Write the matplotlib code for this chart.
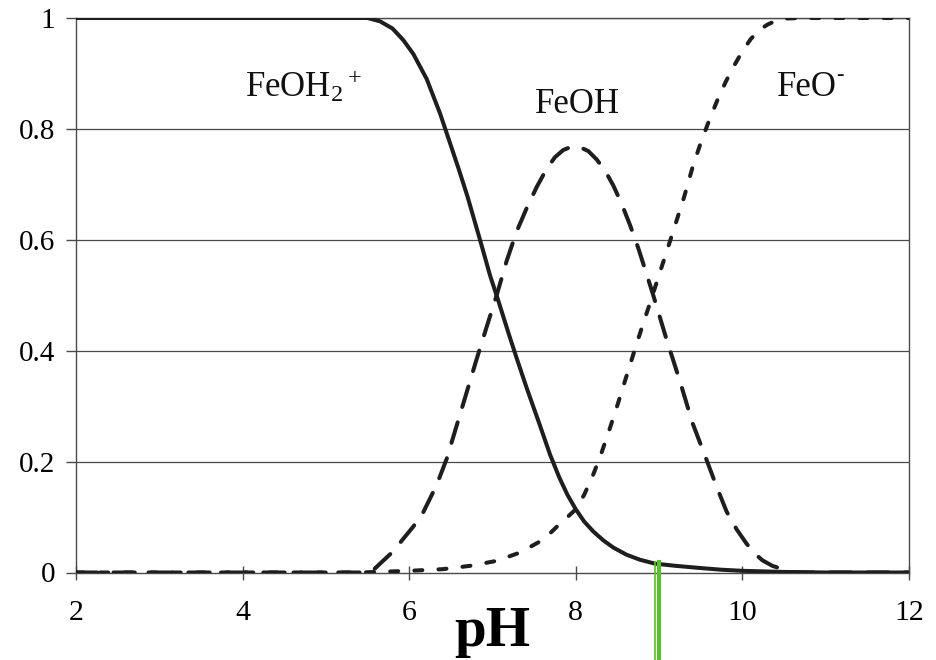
import matplotlib
matplotlib.use("Agg")
import matplotlib.pyplot as plt

# ---- data ----
ph_feoh2 = [2.0, 3.0, 4.0, 5.0, 5.5, 5.65, 5.8, 5.93, 6.05, 6.21, 6.37, 6.5, 6.6, 6.7,
            6.85, 6.97, 7.07, 7.2, 7.3, 7.41, 7.57, 7.69, 7.8, 7.9, 8.0, 8.1, 8.21,
            8.33, 8.45, 8.61, 8.77, 8.95, 9.2, 9.5, 9.75, 10.0, 10.5, 11.0, 12.0]
feoh2 = [1, 1, 1, 1, 1.0, 0.994, 0.981, 0.96, 0.935, 0.89, 0.828, 0.77, 0.725, 0.678,
         0.60, 0.536, 0.49, 0.428, 0.382, 0.333, 0.265, 0.213, 0.172, 0.14, 0.114,
         0.092, 0.074, 0.058, 0.045, 0.032, 0.023, 0.016, 0.012, 0.008, 0.005, 0.003,
         0.001, 0, 0]

ph_feoh = [2.0, 3.0, 4.0, 5.0, 5.5, 5.58, 5.65, 5.8, 5.93, 6.05, 6.17, 6.33, 6.45,
           6.57, 6.69, 6.81, 6.93, 7.05, 7.17, 7.29, 7.41, 7.53, 7.65, 7.75, 7.85,
           7.95, 8.05, 8.15, 8.25, 8.35, 8.45, 8.55, 8.65, 8.75, 8.85, 8.93, 9.09,
           9.25, 9.40, 9.57, 9.69, 9.81, 9.93, 10.05, 10.15, 10.24, 10.36, 10.48,
           10.6, 11.0, 12.0]
feoh = [0, 0, 0, 0, 0, 0.006, 0.016, 0.037, 0.061, 0.083, 0.109, 0.158, 0.205,
        0.265, 0.325, 0.385, 0.443, 0.50, 0.562, 0.615, 0.657, 0.695, 0.728, 0.749,
        0.762, 0.768, 0.767, 0.760, 0.745, 0.725, 0.698, 0.665, 0.627, 0.585, 0.538,
        0.50, 0.42, 0.345, 0.27, 0.203, 0.155, 0.11, 0.078, 0.052, 0.034, 0.022,
        0.012, 0.006, 0, 0, 0]

ph_feo = [2.0, 3.0, 4.0, 5.0, 5.4, 6.0, 6.4, 6.73, 7.05, 7.33, 7.57, 7.7, 7.81, 7.9,
          8.0, 8.1, 8.2, 8.3, 8.4, 8.5, 8.6, 8.7, 8.8, 8.9, 9.0, 9.1, 9.2, 9.3, 9.4,
          9.5, 9.6, 9.7, 9.8, 9.9, 10.0, 10.1, 10.2, 10.3, 10.4, 10.5, 10.7, 11.0, 12.0]
feo = [0, 0, 0, 0, 0, 0.003, 0.006, 0.012, 0.021, 0.036, 0.056, 0.072, 0.088, 0.1,
       0.114, 0.14, 0.173, 0.212, 0.256, 0.302, 0.35, 0.398, 0.445, 0.49, 0.537,
       0.583, 0.63, 0.677, 0.73, 0.775, 0.815, 0.852, 0.885, 0.914, 0.94, 0.962,
       0.978, 0.988, 0.995, 0.999, 1, 1, 1]

x_ticks = [2, 4, 6, 8, 10, 12]
y_ticks = [0, 0.2, 0.4, 0.6, 0.8, 1.0]
y_tick_labels = ["0", "0.2", "0.4", "0.6", "0.8", "1"]
species_labels = [r"FeOH$_2$$^+$", "FeOH", "FeO"]
species_label_pos = [(4.03, 0.857), (7.51, 0.828), (10.42, 0.860)]
feo_charge_pos = (11.17, 0.889)
marker_ph = [8.954, 8.998]
marker_top = 0.019

# ---- style ----
plt.rcParams["font.family"] = ["Liberation Serif", "DejaVu Serif"]
plt.rcParams["mathtext.fontset"] = "custom"
plt.rcParams["mathtext.rm"] = "Liberation Serif"
plt.rcParams["mathtext.it"] = "Liberation Serif"
plt.rcParams["mathtext.default"] = "rm"

fig = plt.figure(figsize=(9.36, 6.6), dpi=100)
ax = fig.add_axes([76 / 936, 1 - 572.5 / 660, (909 - 76) / 936, (572.5 - 18) / 660])

grid_c = "#4a4a4a"
for yv in y_ticks[1:]:
    ax.axhline(yv, color=grid_c, lw=0.9, zorder=1)

line_c = "#1e1e1e"
ax.plot(ph_feoh2, feoh2, color=line_c, lw=2.9, solid_capstyle="round",
        solid_joinstyle="round", zorder=3)
ax.plot(ph_feoh, feoh, color=line_c, lw=2.9, linestyle=(0, (5.3, 4.0)),
        dash_capstyle="round", dash_joinstyle="round", zorder=3)
ax.plot(ph_feo, feo, color=line_c, lw=2.9, linestyle=(0, (2.0, 4.0)),
        dash_capstyle="round", dash_joinstyle="round", zorder=3)

for (lx, ly), txt in zip(species_label_pos, species_labels):
    ax.text(lx, ly, txt, fontsize=25, ha="left", va="baseline", color="#111111")
ax.text(feo_charge_pos[0], feo_charge_pos[1], "-", fontsize=16, ha="center",
        va="baseline", color="#111111")

# green marker lines (extend below the axes)
ax.plot([marker_ph[0]] * 2, [marker_top, -0.2], color="#5cbf2a", lw=1.2,
        clip_on=False, zorder=4)
ax.plot([marker_ph[1]] * 2, [marker_top, -0.2], color="#5cbf2a", lw=3.0,
        clip_on=False, zorder=4)

ax.set_xlim(2, 12)
ax.set_ylim(0, 1)
ax.set_xticks(x_ticks)
ax.set_xticklabels([str(t) for t in x_ticks])
ax.set_yticks(y_ticks)
ax.set_yticklabels(y_tick_labels)

for s in ["left", "right", "bottom", "top"]:
    ax.spines[s].set_color(grid_c)
    ax.spines[s].set_linewidth(1.0)

ax.tick_params(axis="x", direction="inout", length=9.5, width=1.0, color=grid_c,
               labelsize=21.5, pad=15)
ax.tick_params(axis="y", direction="out", length=7, width=1.0, color=grid_c,
               labelsize=21, pad=8)

ax.set_xlabel("pH", fontsize=41, fontweight="bold", labelpad=-14)

fig.savefig("out.png", dpi=100)
